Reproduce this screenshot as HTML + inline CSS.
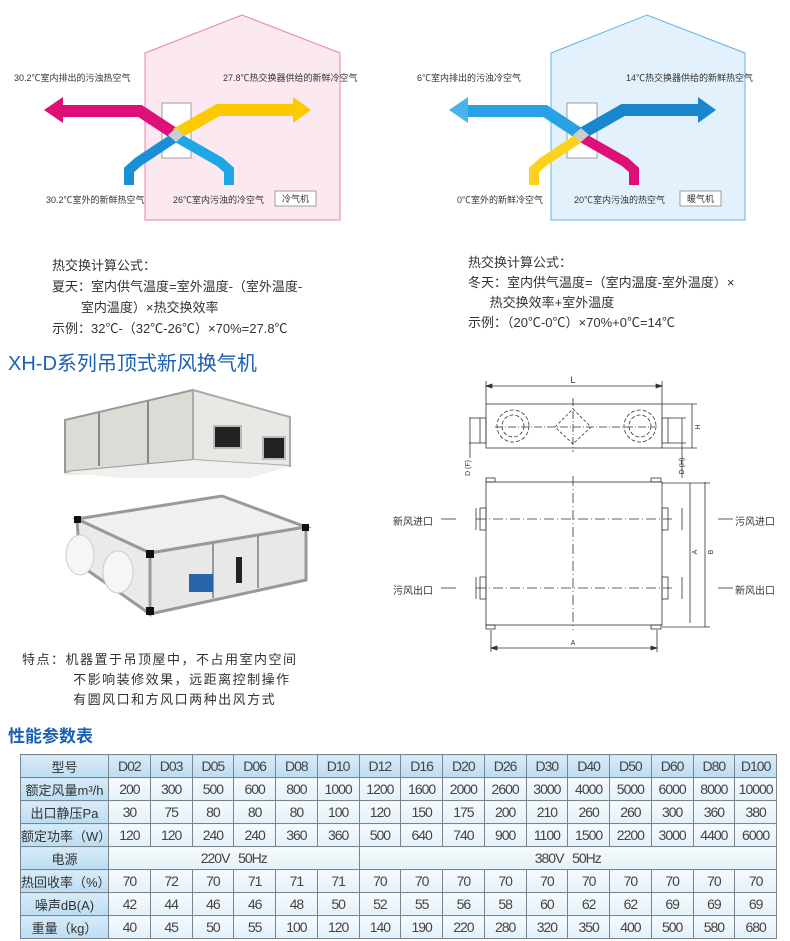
<!DOCTYPE html>
<html><head><meta charset="utf-8">
<style>
*{margin:0;padding:0;box-sizing:border-box}
body{width:790px;height:941px;background:#fff;position:relative;overflow:hidden;font-family:"Liberation Sans","Noto Sans CJK SC",sans-serif;color:#333}
.t{position:absolute;white-space:nowrap}
table{position:absolute;left:20px;top:754px;border-collapse:collapse;table-layout:fixed}
td{border:1px solid #7a848c;height:23px;width:41.75px;text-align:center;font-size:14px;color:#444;background:linear-gradient(#f6fafd,#e4f0f9);padding:0;letter-spacing:-1px}
td.h{background:linear-gradient(#d8ebf8,#bcdcf2)}
td.f{width:88px;background:linear-gradient(#d8ebf8,#bcdcf2);letter-spacing:0;font-size:13px;color:#333}
</style></head><body>
<svg width="790" height="941" style="position:absolute;left:0;top:0">
<polygon points="145,53 242,15 340,53 340,220 145,220" fill="#fce8f1" stroke="#ef7fab" stroke-width="1"/>
<rect x="162" y="103" width="29" height="55" fill="#fff" stroke="#888" stroke-width="0.8"/>
<polyline points="175,134 140,111 63,111" fill="none" stroke="#df0f78" stroke-width="12" stroke-linejoin="miter"/>
<polygon points="63,97 44,110 63,123" fill="#df0f78"/>
<polyline points="176,134 218,110 293,110" fill="none" stroke="#fdc900" stroke-width="12"/>
<polygon points="293,97 311,110 293,123" fill="#fdc900"/>
<polyline points="174,138 138,162 129,170 129,185" fill="none" stroke="#1a8fd6" stroke-width="10"/>
<polyline points="178,138 220,162 229,170 229,185" fill="none" stroke="#1ea6e6" stroke-width="10"/>
<polygon points="176,128 184,135 176,142 168,135" fill="#ccc"/>
<rect x="275" y="191" width="41" height="15" fill="#fff" stroke="#888" stroke-width="0.8"/>
<polygon points="551,53 647,15 745,53 745,220 551,220" fill="#e2f1fb" stroke="#5cb6e6" stroke-width="1"/>
<rect x="567" y="103" width="30" height="55" fill="#fff" stroke="#888" stroke-width="0.8"/>
<polyline points="580,134 545,111 468,111" fill="none" stroke="#28a2e4" stroke-width="12"/>
<polygon points="468,97 449,110 468,123" fill="#4ab4ea"/>
<polyline points="581,134 623,110 698,110" fill="none" stroke="#1a86cc" stroke-width="12"/>
<polygon points="698,97 716,110 698,123" fill="#1a86cc"/>
<polyline points="579,138 543,162 534,170 534,185" fill="none" stroke="#fdd21c" stroke-width="10"/>
<polyline points="583,138 625,162 634,170 634,185" fill="none" stroke="#df0f78" stroke-width="10"/>
<polygon points="581,128 589,135 581,142 573,135" fill="#ccc"/>
<rect x="680" y="191" width="41" height="15" fill="#fff" stroke="#888" stroke-width="0.8"/>

<polygon points="65,420 193,390 290,417 290,466 193,472 65,475" fill="#e6e6e2"/>
<polygon points="65,420 193,390 193,460 65,472" fill="#dcdcd6" stroke="#999" stroke-width="2"/>
<polygon points="193,390 290,417 290,466 193,460" fill="#e8e8e4" stroke="#aaa" stroke-width="2"/>
<line x1="99" y1="413" x2="99" y2="466" stroke="#888" stroke-width="2"/>
<line x1="148" y1="401" x2="148" y2="463" stroke="#888" stroke-width="2"/>
<polygon points="65,472 193,460 290,466 250,478 120,478" fill="#f0f0ee"/>
<rect x="214" y="426" width="27" height="22" fill="#222" stroke="#bbb" stroke-width="2"/>
<rect x="263" y="437" width="22" height="22" fill="#222" stroke="#bbb" stroke-width="2"/>
<polygon points="77,519 222,496 306,527 150,553" fill="#f0f0ee" stroke="#999" stroke-width="3"/>
<polygon points="150,553 306,527 306,580 150,614" fill="#e8e8e6" stroke="#999" stroke-width="3"/>
<polygon points="77,519 150,553 150,614 80,565" fill="#eaeae8" stroke="#999" stroke-width="3"/>
<rect x="146" y="550" width="8" height="8" fill="#111"/><rect x="146" y="607" width="8" height="8" fill="#111"/>
<rect x="74" y="516" width="7" height="7" fill="#111"/><rect x="302" y="524" width="7" height="7" fill="#111"/>
<line x1="213" y1="542" x2="213" y2="598" stroke="#999" stroke-width="2"/>
<line x1="258" y1="535" x2="258" y2="588" stroke="#999" stroke-width="2"/>
<rect x="236" y="557" width="6" height="26" fill="#222"/>
<rect x="189" y="574" width="24" height="18" fill="#2a64a8"/>
<ellipse cx="80" cy="555" rx="14" ry="20" fill="#f6f6f6" stroke="#ccc"/>
<ellipse cx="118" cy="572" rx="15" ry="21" fill="#f6f6f6" stroke="#ccc"/>

<g stroke="#333" stroke-width="0.8" fill="none">
<line x1="486" y1="386" x2="662" y2="386"/>
<line x1="486" y1="381" x2="486" y2="404"/><line x1="662" y1="381" x2="662" y2="404"/>
<polygon points="486,386 492,384 492,388" fill="#333"/><polygon points="662,386 656,384 656,388" fill="#333"/>
<rect x="486" y="404" width="176" height="44"/>
<circle cx="513" cy="426" r="16" stroke-dasharray="4,2"/><circle cx="513" cy="426" r="11" stroke-dasharray="4,2"/>
<circle cx="640" cy="426" r="16" stroke-dasharray="4,2"/><circle cx="640" cy="426" r="11" stroke-dasharray="4,2"/>
<polygon points="573,409 591,427 573,444 555,427" stroke-dasharray="3,2"/>
<line x1="495" y1="427" x2="655" y2="427" stroke-dasharray="8,2,1,2"/>
<line x1="573" y1="398" x2="573" y2="452" stroke-dasharray="8,2,1,2"/>
<rect x="480" y="418" width="6" height="25"/><rect x="662" y="418" width="6" height="25"/>
<line x1="469" y1="418" x2="480" y2="418"/><line x1="469" y1="443" x2="480" y2="443"/><line x1="470" y1="418" x2="470" y2="458"/>
<line x1="668" y1="418" x2="686" y2="418"/><line x1="668" y1="443" x2="686" y2="443"/><line x1="682" y1="418" x2="682" y2="478"/>
<line x1="662" y1="404" x2="697" y2="404"/><line x1="662" y1="448" x2="697" y2="448"/><line x1="692" y1="404" x2="692" y2="448"/>
<rect x="486" y="482" width="176" height="143"/>
<line x1="573" y1="476" x2="573" y2="630" stroke-dasharray="10,3,1,3"/>
<line x1="476" y1="519" x2="672" y2="519" stroke-dasharray="10,3,1,3"/>
<line x1="476" y1="588" x2="672" y2="588" stroke-dasharray="10,3,1,3"/>
<rect x="486" y="478" width="9" height="4"/><rect x="651" y="478" width="10" height="4"/>
<rect x="486" y="625" width="9" height="4"/><rect x="651" y="625" width="10" height="4"/>
<rect x="480" y="508" width="6" height="22"/><rect x="662" y="508" width="6" height="22"/>
<rect x="480" y="577" width="6" height="22"/><rect x="662" y="577" width="6" height="22"/>
<line x1="476" y1="508" x2="476" y2="530"/><line x1="476" y1="577" x2="476" y2="599"/>
<line x1="682" y1="508" x2="682" y2="530"/><line x1="682" y1="577" x2="682" y2="599"/>
<line x1="662" y1="483" x2="710" y2="483"/><line x1="662" y1="627" x2="710" y2="627"/>
<line x1="690" y1="483" x2="690" y2="623"/><line x1="705" y1="482" x2="705" y2="627"/>
<line x1="491" y1="630" x2="491" y2="652"/><line x1="657" y1="630" x2="657" y2="652"/>
<line x1="491" y1="648" x2="657" y2="648"/>
<polygon points="491,648 497,646 497,650" fill="#333"/><polygon points="657,648 651,646 651,650" fill="#333"/>
<line x1="441" y1="519" x2="456" y2="519"/><line x1="441" y1="588" x2="456" y2="588"/>
<line x1="718" y1="519" x2="733" y2="519"/><line x1="718" y1="588" x2="733" y2="588"/>
</g>
<g font-size="7" fill="#333" font-family="Liberation Sans">
<text x="573" y="383" text-anchor="middle" font-size="9">L</text>
<text x="700" y="427" transform="rotate(-90 700 427)" text-anchor="middle">H</text>
<text x="470" y="468" transform="rotate(-90 470 468)" text-anchor="middle">D (F)</text>
<text x="684" y="466" transform="rotate(-90 684 466)" text-anchor="middle">D (H)</text>
<text x="713" y="552" transform="rotate(-90 713 552)" text-anchor="middle">B</text>
<text x="697" y="552" transform="rotate(-90 697 552)" text-anchor="middle">A</text>
<text x="573" y="645" text-anchor="middle">A</text>
</g>
</svg>

<div class="t" style="left:14px;top:71px;font-size:9px">30.2℃室内排出的污浊热空气</div>
<div class="t" style="left:223px;top:71px;font-size:9px">27.8℃热交换器供给的新鲜冷空气</div>
<div class="t" style="left:46px;top:193px;font-size:9px">30.2℃室外的新鲜热空气</div>
<div class="t" style="left:173px;top:193px;font-size:9px">26℃室内污浊的冷空气</div>
<div class="t" style="left:282px;top:192px;font-size:9px">冷气机</div>
<div class="t" style="left:417px;top:71px;font-size:9px">6℃室内排出的污浊冷空气</div>
<div class="t" style="left:626px;top:71px;font-size:9px">14℃热交换器供给的新鲜热空气</div>
<div class="t" style="left:457px;top:193px;font-size:9px">0℃室外的新鲜冷空气</div>
<div class="t" style="left:574px;top:193px;font-size:9px">20℃室内污浊的热空气</div>
<div class="t" style="left:687px;top:192px;font-size:9px">暖气机</div>

<div class="t" style="left:52px;top:255px;font-size:13px;line-height:21px">热交换计算公式：<br>夏天：室内供气温度=室外温度-（室外温度-<br>&nbsp;&nbsp;&nbsp;&nbsp;&nbsp;&nbsp;&nbsp;&nbsp;室内温度）×热交换效率<br>示例：32℃-（32℃-26℃）×70%=27.8℃</div>
<div class="t" style="left:468px;top:253px;font-size:13px;line-height:20px">热交换计算公式：<br>冬天：室内供气温度=（室内温度-室外温度）×<br>&nbsp;&nbsp;&nbsp;&nbsp;&nbsp;&nbsp;热交换效率+室外温度<br>示例：（20℃-0℃）×70%+0℃=14℃</div>
<div class="t" style="left:8px;top:347px;font-size:20px;color:#1a5fb4">XH-D系列吊顶式新风换气机</div>
<div class="t" style="left:22px;top:650px;font-size:13px;line-height:20px;letter-spacing:1.5px">特点：机器置于吊顶屋中，不占用室内空间<br>&nbsp;&nbsp;&nbsp;&nbsp;&nbsp;&nbsp;&nbsp;&nbsp;&nbsp;&nbsp;不影响装修效果，远距离控制操作<br>&nbsp;&nbsp;&nbsp;&nbsp;&nbsp;&nbsp;&nbsp;&nbsp;&nbsp;&nbsp;有圆风口和方风口两种出风方式</div>
<div class="t" style="left:8px;top:722px;font-size:17px;color:#1a5fb4;font-weight:bold">性能参数表</div>
<div class="t" style="left:393px;top:513px;font-size:10px">新风进口</div>
<div class="t" style="left:735px;top:513px;font-size:10px">污风进口</div>
<div class="t" style="left:393px;top:582px;font-size:10px">污风出口</div>
<div class="t" style="left:735px;top:582px;font-size:10px">新风出口</div>

<table>
<tr><td class="f">型号</td><td class="h">D02</td><td class="h">D03</td><td class="h">D05</td><td class="h">D06</td><td class="h">D08</td><td class="h">D10</td><td class="h">D12</td><td class="h">D16</td><td class="h">D20</td><td class="h">D26</td><td class="h">D30</td><td class="h">D40</td><td class="h">D50</td><td class="h">D60</td><td class="h">D80</td><td class="h">D100</td></tr>
<tr><td class="f">额定风量m³/h</td><td>200</td><td>300</td><td>500</td><td>600</td><td>800</td><td>1000</td><td>1200</td><td>1600</td><td>2000</td><td>2600</td><td>3000</td><td>4000</td><td>5000</td><td>6000</td><td>8000</td><td>10000</td></tr>
<tr><td class="f">出口静压Pa</td><td>30</td><td>75</td><td>80</td><td>80</td><td>80</td><td>100</td><td>120</td><td>150</td><td>175</td><td>200</td><td>210</td><td>260</td><td>260</td><td>300</td><td>360</td><td>380</td></tr>
<tr><td class="f">额定功率（W）</td><td>120</td><td>120</td><td>240</td><td>240</td><td>360</td><td>360</td><td>500</td><td>640</td><td>740</td><td>900</td><td>1100</td><td>1500</td><td>2200</td><td>3000</td><td>4400</td><td>6000</td></tr>
<tr><td class="f">电源</td><td colspan="6">220V&nbsp;&nbsp;&nbsp;50Hz</td><td colspan="10">380V&nbsp;&nbsp;&nbsp;50Hz</td></tr>
<tr><td class="f">热回收率（%）</td><td>70</td><td>72</td><td>70</td><td>71</td><td>71</td><td>71</td><td>70</td><td>70</td><td>70</td><td>70</td><td>70</td><td>70</td><td>70</td><td>70</td><td>70</td><td>70</td></tr>
<tr><td class="f">噪声dB(A)</td><td>42</td><td>44</td><td>46</td><td>46</td><td>48</td><td>50</td><td>52</td><td>55</td><td>56</td><td>58</td><td>60</td><td>62</td><td>62</td><td>69</td><td>69</td><td>69</td></tr>
<tr><td class="f">重量（kg）</td><td>40</td><td>45</td><td>50</td><td>55</td><td>100</td><td>120</td><td>140</td><td>190</td><td>220</td><td>280</td><td>320</td><td>350</td><td>400</td><td>500</td><td>580</td><td>680</td></tr>
</table>
</body></html>
